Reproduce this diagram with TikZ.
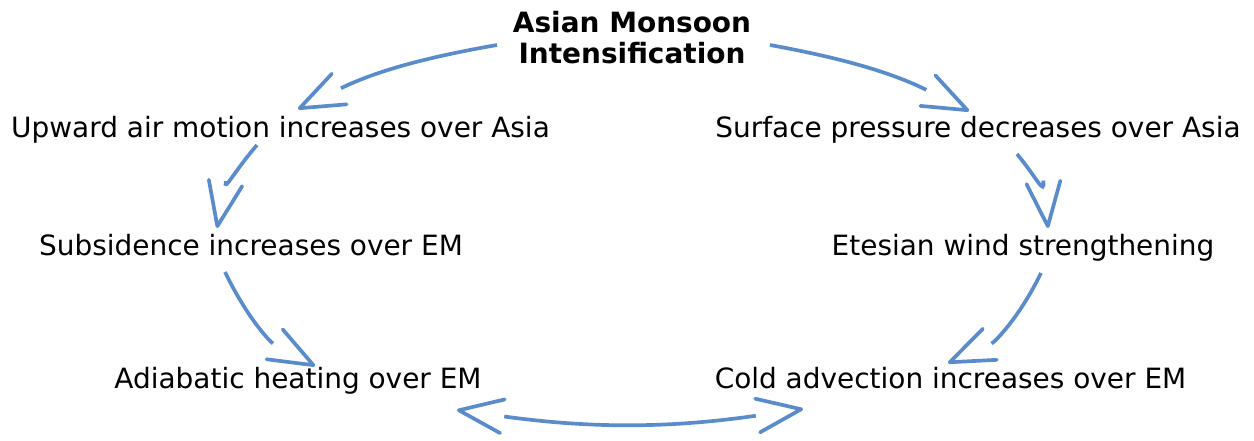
\documentclass[tikz,border=0pt]{standalone}
\usepackage{fontspec}
\setmainfont{DejaVu Sans}
\usetikzlibrary{arrows.meta}
\definecolor{flowblue}{HTML}{5A8BCB}
\tikzset{phase/.style={inner sep=0pt,anchor=base,font=\fontsize{15.9}{17.6}\selectfont},headline/.style={phase,align=center,font=\fontsize{15.9}{17.6}\selectfont\bfseries},flow/.style={draw=flowblue,line width=2.1pt,-{. Straight Barb[length=8.8mm,width=6.8mm,round]}},both/.style={flow,{Straight Barb[length=8.8mm,width=6.8mm,round] .}-{. Straight Barb[length=8.8mm,width=6.8mm,round]}}}

\begin{document}
\begin{tikzpicture}
\useasboundingbox (0,0) rectangle (25.08,-8.8);
\node[headline] (monsoon) at (12.64,-1.26) {Asian Monsoon\\Intensification};
\node[phase] (upward) at (5.61,-2.74) {Upward air motion increases over Asia};
\node[phase] (surface) at (19.56,-2.74) {Surface pressure decreases over Asia};
\node[phase] (subsid) at (5.02,-5.10) {Subsidence increases over EM};
\node[phase] (etesian) at (20.46,-5.10) {Etesian wind strengthening};
\node[phase] (adiab) at (5.96,-7.76) {Adiabatic heating over EM};
\node[phase] (cold) at (19.01,-7.76) {Cold advection increases over EM};
% left branch
\draw[flow] ([shift={(-2.70,0.36)}]monsoon.base) to[bend right=8] ([shift={(0.35,0.56)}]upward.base);
\draw[flow] ([shift={(-0.47,-0.16)}]upward.base) to[bend right=15] ([shift={(-0.68,0.54)}]subsid.base);
\draw[flow] ([shift={(-0.52,-0.34)}]subsid.base) to[bend right=18] ([shift={(0.34,0.44)}]adiab.base);
% right branch
\draw[flow] ([shift={(2.76,0.36)}]monsoon.base) to[bend left=8] ([shift={(-0.18,0.52)}]surface.base);
\draw[flow] ([shift={(0.78,-0.34)}]surface.base) to[bend left=17] ([shift={(0.5,0.54)}]etesian.base);
\draw[flow] ([shift={(0.36,-0.36)}]etesian.base) to[bend left=20] ([shift={(-0.05,0.5)}]cold.base);
\draw[both] ([shift={(3.18,-0.44)}]adiab.base) to[bend right=8] ([shift={(-2.95,-0.42)}]cold.base);
\end{tikzpicture}
\end{document}
